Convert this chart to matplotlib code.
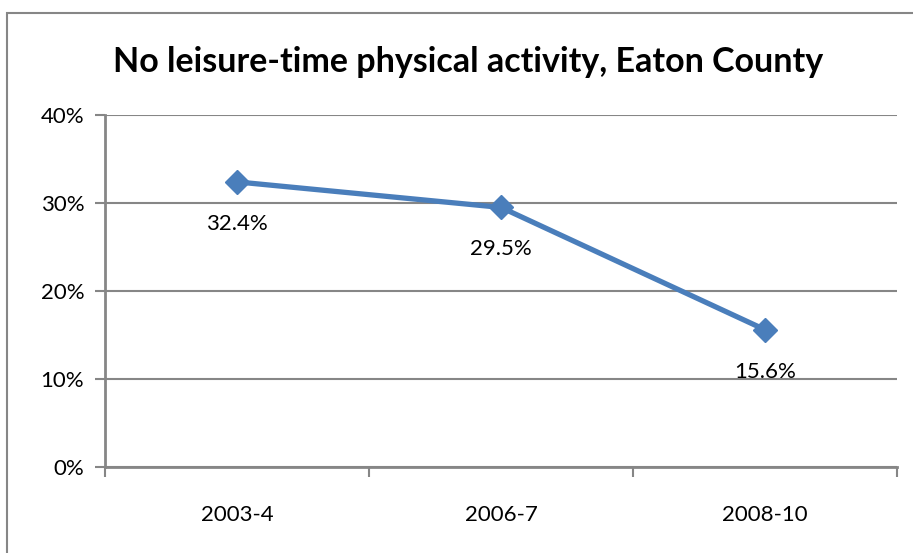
import matplotlib.pyplot as plt
from matplotlib.patches import Rectangle

plt.rcParams["font.family"] = ["Lato", "DejaVu Sans"]

periods = ["2003-4", "2006-7", "2008-10"]
rates = [32.4, 29.5, 15.6]
yticks = [0, 10, 20, 30, 40]

grey = "#868686"
blue = "#4A7EBB"

fig = plt.figure(figsize=(9.13, 5.53), dpi=100)
ax = fig.add_axes([0.115, 0.1555, 0.8675, 0.6365])

x = range(len(periods))
ax.plot(x, rates, color=blue, lw=3.8, marker="D", ms=12, mec=blue, mfc=blue)
for xi, v in zip(x, rates):
    ax.annotate(f"{v:.1f}%", (xi, v), xytext=(0, -23), textcoords="offset points",
                ha="center", va="top", fontsize=16)

ax.set_xlim(-0.5, len(periods) - 0.5)
ax.set_ylim(0, 40)
ax.set_yticks(yticks)
ax.set_yticklabels([f"{t}%" for t in yticks], fontsize=16)
ax.set_xticks(x)
ax.set_xticklabels(periods, fontsize=16)
ax.set_xticks([i - 0.5 for i in range(len(periods) + 1)], minor=True)
ax.tick_params(axis="x", which="major", length=0, pad=27)
ax.tick_params(axis="x", which="minor", length=7, width=1.5, color=grey, direction="out")
ax.tick_params(axis="y", length=7, width=1.5, color=grey, pad=8)
ax.grid(axis="y", color=grey, lw=1.5)
ax.set_axisbelow(True)
for side in ("top", "right"):
    ax.spines[side].set_visible(False)
for side in ("left", "bottom"):
    ax.spines[side].set_color(grey)
    ax.spines[side].set_linewidth(2)

fig.text(0.513, 0.888, "No leisure-time physical activity, Eaton County",
         ha="center", va="center", fontsize=24.5, fontweight="bold")

# chart frame
fig.patches.append(Rectangle((7 / 913, -0.1), 1.2, 1.1 - 13 / 553, transform=fig.transFigure,
                             fill=False, ec=grey, lw=1.5))

fig.savefig("out.png", dpi=100)
